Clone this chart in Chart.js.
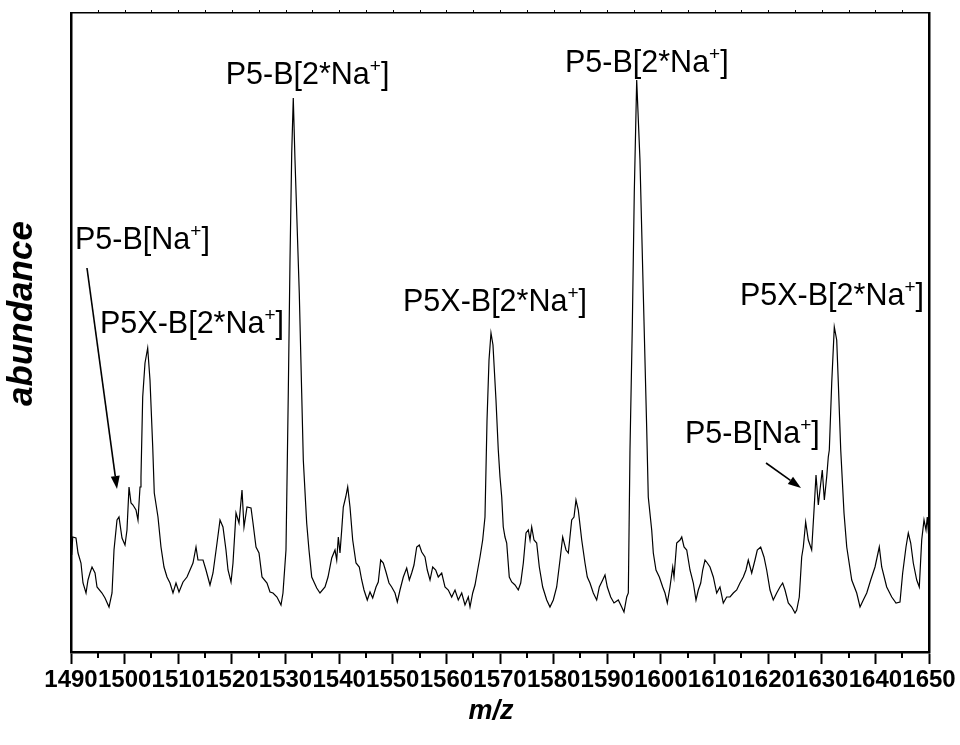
<!DOCTYPE html>
<html lang="en">
<head>
    <meta charset="UTF-8">
    <title>Mass spectrum</title>
    <script src="https://cdn.jsdelivr.net/npm/chart.js"></script>
    <style>
        body { margin: 0; background: #fff; }
        #wrap { width: 960px; height: 745px; }
    </style>
</head>
<body>
<div id="wrap"><canvas id="spectrum" width="960" height="745"></canvas></div>
<script>
    // m/z values and abundance (arbitrary units)
    const mzValues = [
        1490.13, 1490.32, 1490.93, 1491.31, 1491.86, 1492.24, 1492.80, 1493.17, 1493.54, 1493.92,
        1494.48, 1494.85, 1495.78, 1496.34, 1497.09, 1497.65, 1498.02, 1498.58, 1498.95, 1499.51,
        1500.07, 1500.44, 1500.82, 1501.19, 1501.56, 1502.12, 1502.49, 1502.87, 1503.05, 1503.37,
        1503.80, 1504.30, 1504.73, 1505.24, 1505.53, 1506.22, 1506.78, 1507.34, 1507.90, 1508.46,
        1509.02, 1509.58, 1510.14, 1510.89, 1511.63, 1512.19, 1512.75, 1513.31, 1513.68, 1514.62,
        1515.17, 1515.92, 1516.48, 1517.23, 1517.79, 1518.34, 1518.90, 1519.28, 1519.84, 1520.21,
        1520.77, 1521.33, 1521.89, 1522.26, 1522.82, 1523.57, 1523.94, 1524.50, 1525.06, 1525.62,
        1526.55, 1527.11, 1527.67, 1528.41, 1529.16, 1529.53, 1530.09, 1530.34, 1530.52, 1530.84,
        1531.16, 1531.45, 1531.77, 1532.57, 1533.02, 1533.32, 1533.95, 1534.38, 1534.89, 1535.82,
        1536.43, 1537.37, 1537.93, 1538.62, 1539.23, 1539.55, 1539.85, 1540.16, 1540.48, 1540.78,
        1541.23, 1541.60, 1542.03, 1542.53, 1543.15, 1543.76, 1544.21, 1544.64, 1545.25, 1545.76,
        1546.26, 1546.88, 1547.30, 1547.75, 1548.24, 1548.74, 1549.30, 1549.80, 1550.42, 1550.85,
        1551.35, 1551.97, 1552.60, 1553.09, 1553.53, 1553.96, 1554.47, 1554.95, 1555.40, 1556.01,
        1556.44, 1556.95, 1557.45, 1558.01, 1558.49, 1559.13, 1559.74, 1560.36, 1560.99, 1561.61,
        1562.22, 1562.86, 1563.47, 1564.09, 1564.41, 1564.91, 1565.34, 1565.77, 1566.27, 1566.77,
        1567.20, 1567.58, 1567.95, 1568.32, 1568.69, 1569.25, 1569.68, 1570.00, 1570.32, 1570.61,
        1570.93, 1571.25, 1571.73, 1572.18, 1572.80, 1573.41, 1573.86, 1574.35, 1574.85, 1575.28,
        1575.60, 1575.91, 1576.34, 1576.84, 1577.33, 1577.96, 1578.71, 1579.32, 1579.94, 1580.57,
        1581.19, 1581.69, 1582.31, 1582.74, 1583.37, 1583.80, 1584.17, 1584.60, 1585.24, 1585.85,
        1586.28, 1586.78, 1587.40, 1588.03, 1588.52, 1589.15, 1589.58, 1590.01, 1590.64, 1591.26,
        1592.06, 1592.69, 1593.12, 1593.63, 1593.93, 1594.24, 1594.67, 1595.04, 1595.49, 1596.10,
        1596.72, 1597.35, 1597.65, 1598.29, 1598.59, 1599.09, 1599.71, 1600.34, 1600.77, 1601.20,
        1601.70, 1602.21, 1602.45, 1602.95, 1603.57, 1603.89, 1604.32, 1604.82, 1605.43, 1606.05,
        1606.55, 1606.98, 1607.43, 1607.80, 1608.23, 1608.66, 1609.16, 1609.78, 1610.41, 1611.02,
        1611.64, 1612.27, 1612.89, 1613.51, 1614.14, 1614.75, 1615.37, 1615.87, 1616.30, 1616.94,
        1617.55, 1617.98, 1618.61, 1619.23, 1619.73, 1620.35, 1620.96, 1621.60, 1622.21, 1622.71,
        1623.15, 1623.76, 1624.40, 1625.01, 1625.33, 1625.81, 1626.26, 1626.56, 1627.00, 1627.49,
        1628.12, 1628.56, 1628.93, 1629.36, 1629.67, 1630.10, 1630.48, 1630.92, 1631.22, 1631.41,
        1631.86, 1632.34, 1632.79, 1633.09, 1633.54, 1634.15, 1634.66, 1635.59, 1636.52, 1637.14,
        1637.75, 1638.39, 1639.13, 1639.93, 1640.73, 1641.18, 1642.11, 1643.05, 1643.85, 1644.59,
        1645.09, 1645.71, 1646.14, 1646.59, 1647.07, 1647.71, 1648.19, 1648.64, 1649.07, 1649.44,
        1649.68, 1650.00
    ];
    const abundance = [
        97, 115, 114, 99, 89, 69, 59, 72, 79, 85,
        79, 65, 59, 54, 45, 59, 102, 132, 135, 114,
        107, 122, 165, 149, 147, 142, 132, 165, 175, 255,
        289, 304, 272, 205, 159, 135, 105, 85, 75, 69,
        59, 69, 60, 70, 75, 82, 89, 105, 92, 92,
        82, 67, 79, 109, 132, 125, 102, 82, 70, 89,
        139, 129, 162, 125, 145, 144, 129, 105, 99, 75,
        69, 60, 59, 55, 47, 59, 102, 192, 259, 392,
        499, 554, 492, 359, 259, 192, 129, 102, 75, 64,
        59, 65, 75, 94, 102, 92, 115, 99, 122, 145,
        155, 165, 145, 112, 89, 85, 72, 62, 52, 60,
        54, 65, 70, 92, 89, 80, 69, 65, 59, 50,
        62, 75, 84, 72, 79, 87, 105, 107, 100, 95,
        82, 72, 85, 82, 75, 79, 65, 62, 55, 62,
        52, 59, 47, 55, 45, 59, 67, 80, 95, 112,
        135, 232, 292, 319, 307, 252, 202, 175, 155, 125,
        115, 109, 75, 70, 67, 62, 69, 89, 119, 122,
        112, 125, 112, 109, 85, 65, 52, 45, 52, 65,
        92, 115, 102, 99, 132, 135, 152, 142, 112, 89,
        75, 69, 59, 52, 65, 72, 77, 65, 55, 49,
        52, 45, 40, 55, 59, 202, 325, 459, 572, 492,
        359, 225, 155, 122, 99, 82, 75, 65, 59, 49,
        65, 85, 75, 109, 112, 115, 105, 102, 82, 69,
        52, 62, 69, 82, 92, 89, 85, 75, 59, 65,
        49, 55, 55, 59, 62, 69, 75, 82, 92, 79,
        92, 102, 105, 95, 82, 62, 52, 59, 65, 69,
        62, 49, 45, 39, 42, 55, 95, 105, 130, 112,
        102, 142, 177, 147, 162, 182, 152, 175, 195, 202,
        269, 325, 312, 269, 202, 139, 105, 72, 59, 45,
        52, 59, 72, 85, 105, 85, 65, 55, 49, 50,
        79, 105, 119, 109, 89, 72, 65, 112, 132, 122,
        135, 112
    ];
    const xTickValues = [1490, 1500, 1510, 1520, 1530, 1540, 1550, 1560, 1570, 1580,
        1590, 1600, 1610, 1620, 1630, 1640, 1650];

    // peak labels (text anchored at left / baseline, in data units)
    const peakLabels = [
        { text: 'P5-B[2*Na', mz: 1518.85, ab: 568 },
        { text: 'P5-B[2*Na', mz: 1582.12, ab: 580 },
        { text: 'P5X-B[2*Na', mz: 1551.91, ab: 341 },
        { text: 'P5X-B[2*Na', mz: 1495.41, ab: 319 },
        { text: 'P5X-B[2*Na', mz: 1614.75, ab: 347 },
        { text: 'P5-B[Na', mz: 1490.75, ab: 403 },
        { text: 'P5-B[Na', mz: 1604.50, ab: 209 }
    ];
    const arrows = [
        { from: [1492.98, 384], to: [1498.58, 163] },
        { from: [1619.61, 189], to: [1626.13, 164] }
    ];

    const FONT = "'Liberation Sans', Arial, sans-serif";

    const decorations = {
        id: 'decorations',
        afterDraw(chart) {
            const ctx = chart.ctx;
            const x = chart.scales.x, y = chart.scales.y;
            const area = chart.chartArea;
            ctx.save();
            ctx.strokeStyle = '#000';
            // minor ticks on the bottom axis
            ctx.lineWidth = 2;
            for (let v = 1495; v < 1650; v += 10) {
                const px = Math.round(x.getPixelForValue(v));
                ctx.beginPath();
                ctx.moveTo(px, area.bottom);
                ctx.lineTo(px, area.bottom + 6);
                ctx.stroke();
            }
            // small ticks on the top frame
            ctx.lineWidth = 1;
            for (let v = 1495; v < 1650; v += 5) {
                const px = Math.round(x.getPixelForValue(v)) + 0.5;
                ctx.beginPath();
                ctx.moveTo(px, area.top);
                ctx.lineTo(px, area.top - 3);
                ctx.stroke();
            }

            // axis titles (both sit a bit off-centre in the original)
            ctx.fillStyle = '#000';
            ctx.textAlign = 'center';
            ctx.textBaseline = 'middle';
            ctx.font = 'italic bold 27px ' + FONT;
            ctx.fillText('m/z', (area.left + area.right) / 2 - 9, 712);
            ctx.save();
            ctx.translate(22, (area.top + area.bottom) / 2 - 19);
            ctx.rotate(-Math.PI / 2);
            ctx.font = 'italic bold 35px ' + FONT;
            ctx.fillText('abundance', 0, 0);
            ctx.restore();

            // labels
            ctx.textBaseline = 'alphabetic';
            ctx.textAlign = 'left';
            peakLabels.forEach(l => {
                let px = x.getPixelForValue(l.mz);
                const py = y.getPixelForValue(l.ab);
                ctx.font = '30.5px ' + FONT;
                ctx.fillText(l.text, px, py);
                px += ctx.measureText(l.text).width;
                ctx.font = '19px ' + FONT;
                ctx.fillText('+', px, py - 12);
                px += ctx.measureText('+').width;
                ctx.font = '30.5px ' + FONT;
                ctx.fillText(']', px, py);
            });

            // arrows
            arrows.forEach(a => {
                const x0 = x.getPixelForValue(a.from[0]), y0 = y.getPixelForValue(a.from[1]);
                const x1 = x.getPixelForValue(a.to[0]), y1 = y.getPixelForValue(a.to[1]);
                const ang = Math.atan2(y1 - y0, x1 - x0);
                const len = 13, half = 4.5;
                const bx = x1 - len * Math.cos(ang), by = y1 - len * Math.sin(ang);
                ctx.lineWidth = 1.6;
                ctx.beginPath();
                ctx.moveTo(x0, y0);
                ctx.lineTo(bx, by);
                ctx.stroke();
                ctx.beginPath();
                ctx.moveTo(x1, y1);
                ctx.lineTo(bx + half * Math.sin(ang), by - half * Math.cos(ang));
                ctx.lineTo(bx - half * Math.sin(ang), by + half * Math.cos(ang));
                ctx.closePath();
                ctx.fill();
            });
            ctx.restore();
        }
    };

    new Chart(document.getElementById('spectrum'), {
        type: 'line',
        data: {
            datasets: [{
                label: 'abundance',
                data: mzValues.map((m, i) => ({ x: m, y: abundance[i] })),
                borderColor: '#000',
                borderWidth: 1.2,
                pointRadius: 0,
                tension: 0,
                fill: false
            }]
        },
        options: {
            responsive: false,
            animation: false,
            devicePixelRatio: 1,
            layout: { padding: { top: 13, right: 31, left: 0, bottom: 0 } },
            plugins: { legend: { display: false }, tooltip: { enabled: false } },
            scales: {
                x: {
                    type: 'linear',
                    position: 'bottom',
                    min: 1490,
                    max: 1650,
                    afterBuildTicks: s => { s.ticks = xTickValues.map(v => ({ value: v })); },
                    afterFit: s => { s.height = 93; s.paddingLeft = 0; s.paddingRight = 0; },
                    ticks: {
                        autoSkip: false,
                        maxRotation: 0,
                        minRotation: 0,
                        padding: 2,
                        color: '#000',
                        font: { family: FONT, size: 24, weight: 'bold' },
                        callback: v => String(v)
                    },
                    grid: { drawOnChartArea: false, tickLength: 12, tickWidth: 2, tickColor: '#000' },
                    border: { color: '#000', width: 2.5 }
                },
                x2: {
                    type: 'linear',
                    position: 'top',
                    min: 1490,
                    max: 1650,
                    ticks: { display: false },
                    grid: { display: false },
                    border: { color: '#000', width: 1.5 },
                    afterFit: s => { s.height = 0; s.paddingLeft = 0; s.paddingRight = 0; }
                },
                y: {
                    min: 0,
                    max: 639,
                    ticks: { display: false },
                    grid: { display: false },
                    border: { color: '#000', width: 2.5 },
                    afterFit: s => { s.width = 71; s.paddingTop = 0; s.paddingBottom = 0; }
                },
                y2: {
                    position: 'right',
                    min: 0,
                    max: 639,
                    ticks: { display: false },
                    grid: { display: false },
                    border: { color: '#000', width: 2.5 },
                    afterFit: s => { s.width = 0; }
                }
            }
        },
        plugins: [decorations]
    });
</script>
</body>
</html>
